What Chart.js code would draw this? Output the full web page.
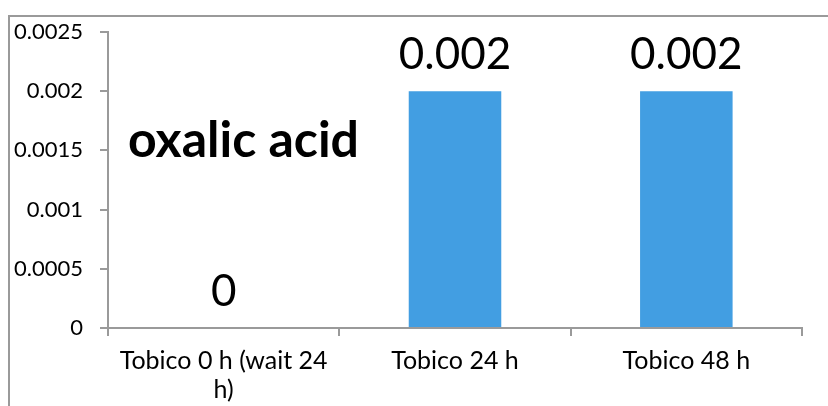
<!DOCTYPE html>
<html><head><meta charset="utf-8">
<script src="https://cdn.jsdelivr.net/npm/chart.js@4/dist/chart.umd.min.js"></script>
<style>html,body{margin:0;padding:0;background:#fff;}#wrap{position:absolute;left:0;top:0;width:828px;height:406px;}</style>
</head><body><div id="wrap"><canvas id="c" width="828" height="406"></canvas></div>
<script>
const categories = [["Tobico 0 h (wait 24", "h)"], "Tobico 24 h", "Tobico 48 h"];
const values = [0, 0.002, 0.002];
const valueLabels = ["0", "0.002", "0.002"];
const yTicks = [0, 0.0005, 0.001, 0.0015, 0.002, 0.0025];
const yTickLabels = ["0", "0.0005", "0.001", "0.0015", "0.002", "0.0025"];
const title = "oxalic acid";
const FONT = "Lato, 'Open Sans', sans-serif";

const frame = {
  id: 'frame',
  afterDraw(chart) {
    const ctx = chart.ctx;
    ctx.save();
    ctx.strokeStyle = '#9a9a9a';
    ctx.lineWidth = 2;
    ctx.beginPath();
    ctx.moveTo(9, 406); ctx.lineTo(9, 16); ctx.lineTo(828, 16);
    ctx.stroke();
    // title
    ctx.fillStyle = '#000';
    ctx.font = "bold 50px " + FONT;
    ctx.textBaseline = 'alphabetic';
    ctx.textAlign = 'left';
    ctx.fillText(title, 128, 157);
    // data labels
    const meta = chart.getDatasetMeta(0);
    const ys = chart.scales.y;
    ctx.font = "44px " + FONT;
    ctx.textAlign = 'center';
    meta.data.forEach((bar, i) => {
      const yTop = ys.getPixelForValue(values[i]);
      ctx.fillText(valueLabels[i], bar.x, yTop - 22);
    });
    ctx.restore();
  }
};

new Chart(document.getElementById('c'), {
  type: 'bar',
  data: { labels: categories, datasets: [{ data: values, backgroundColor: '#429EE2', barPercentage: 0.4, categoryPercentage: 1.0 }] },
  options: {
    responsive: false, animation: false,
    layout: { padding: { top: 32, right: 26, left: 0, bottom: 0 } },
    plugins: { legend: { display: false }, tooltip: { enabled: false } },
    scales: {
      x: {
        offset: true,
        grid: { offset: true, drawOnChartArea: false, drawTicks: true, tickLength: 8, color: '#9a9a9a', lineWidth: 2 },
        border: { display: true, color: '#9a9a9a', width: 2 },
        ticks: { color: '#000', font: { family: FONT, size: 25, lineHeight: 1.15 }, padding: 11, maxRotation: 0, autoSkip: false },
        afterFit(s) { s.height = 78; }
      },
      y: {
        min: 0, max: 0.0025,
        afterBuildTicks(s) { s.ticks = yTicks.map(v => ({ value: v })); },
        grid: { drawOnChartArea: false, drawTicks: true, tickLength: 8, color: '#9a9a9a', lineWidth: 2 },
        border: { display: true, color: '#9a9a9a', width: 2 },
        ticks: { color: '#000', font: { family: FONT, size: 22 }, padding: 17,
          callback(v) { const i = yTicks.indexOf(v); return i >= 0 ? yTickLabels[i] : ''; } },
        afterFit(s) { s.width = 108; }
      }
    }
  },
  plugins: [frame]
});
</script></body></html>
